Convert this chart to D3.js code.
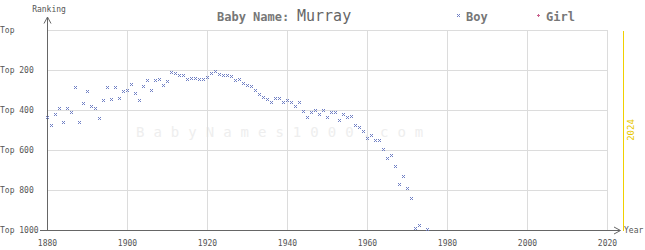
<!DOCTYPE html>
<html>
<head>
<meta charset="utf-8">
<script src="https://cdn.jsdelivr.net/npm/d3@7"></script>
<style>
  body { margin: 0; background: #fff; }
  svg { display: block; font-family: "DejaVu Sans Mono", monospace; }
</style>
</head>
<body>
<div id="vis"></div>
<script>
// ranking of "Murray" (boys) by year
var boyYears = [1880,1881,1882,1883,1884,1885,1886,1887,1888,1889,
                1890,1891,1892,1893,1894,1895,1896,1897,1898,1899,
                1900,1901,1902,1903,1904,1905,1906,1907,1908,1909,
                1910,1911,1912,1913,1914,1915,1916,1917,1918,1919,
                1920,1921,1922,1923,1924,1925,1926,1927,1928,1929,
                1930,1931,1932,1933,1934,1935,1936,1937,1938,1939,
                1940,1941,1942,1943,1944,1945,1946,1947,1948,1949,
                1950,1951,1952,1953,1954,1955,1956,1957,1958,1959,
                1960,1961,1962,1963,1964,1965,1966,1967,1968,1969,
                1970,1971,1972,1973,1975];
var boyRanks = [437,477,422,392,462,392,412,287,462,367,
                307,382,392,442,352,287,347,287,342,307,
                302,272,317,352,282,252,302,252,247,277,
                257,212,217,227,227,247,242,242,247,247,
                237,217,207,222,227,227,232,252,247,267,
                277,282,302,322,337,347,362,342,342,362,
                352,362,382,362,407,437,412,402,422,402,
                437,412,412,452,422,437,432,477,487,507,
                542,527,552,552,595,642,627,682,772,732,
                792,842,992,977,997];
var girlYears = [];
var girlRanks = [];

var xTicks = [1880,1900,1920,1940,1960,1980,2000,2020];
var yTicks = [0,200,400,600,800,1000];
var yLabels = ["Top","Top 200","Top 400","Top 600","Top 800","Top 1000"];
var currentYear = 2024;

var width = 645, height = 250;
var x = d3.scaleLinear().domain([1880, 2020]).range([47.5, 607.5]);
var y = d3.scaleLinear().domain([0, 1000]).range([30.5, 230.5]);

var svg = d3.select("#vis").append("svg")
    .attr("width", width)
    .attr("height", height);

// watermark
svg.append("text")
    .attr("x", 136).attr("y", 137)
    .style("font-size", "14px")
    .style("letter-spacing", "9px")
    .style("fill", "#eeeeee")
    .text("BabyNames1000.com");

// grid
var grid = svg.append("g").attr("shape-rendering", "crispEdges");
grid.selectAll(".hg").data(yTicks.slice(0, -1)).enter().append("line")
    .attr("x1", x(1880)).attr("x2", x(2020))
    .attr("y1", function(d){ return y(d); }).attr("y2", function(d){ return y(d); })
    .style("stroke", "#dcdcdc");
grid.selectAll(".vg").data(xTicks.slice(1)).enter().append("line")
    .attr("x1", function(d){ return x(d); }).attr("x2", function(d){ return x(d); })
    .attr("y1", y(0)).attr("y2", y(1000))
    .style("stroke", "#dcdcdc");

// current year line
svg.append("line")
    .attr("x1", x(currentYear)).attr("x2", x(currentYear))
    .attr("y1", y(0)).attr("y2", y(1000))
    .attr("shape-rendering", "crispEdges")
    .style("stroke", "#f0d000");
svg.append("text")
    .attr("transform", "translate(" + (x(currentYear) + 10.5) + "," + 130 + ") rotate(-90)")
    .attr("text-anchor", "middle")
    .style("font-size", "9px")
    .style("fill", "#e8c800")
    .text(currentYear);

// axes
var axis = svg.append("g").style("stroke", "#666").style("fill", "none");
axis.append("line").attr("shape-rendering", "crispEdges")
    .attr("x1", x(1880)).attr("x2", x(1880)).attr("y1", 17).attr("y2", y(1000));
axis.append("path").attr("d", "M44,23.5L47.5,17L51,23.5");
axis.append("line").attr("shape-rendering", "crispEdges")
    .attr("x1", 40).attr("x2", 620).attr("y1", y(1000)).attr("y2", y(1000));
axis.append("path").attr("d", "M614,227L620.5,230.5L614,234");

// tick labels
svg.selectAll(".yl").data(yTicks).enter().append("text")
    .attr("x", 0).attr("y", function(d){ return y(d); })
    .attr("dy", "0.32em")
    .style("font-size", "8px").style("fill", "#555")
    .text(function(d, i){ return yLabels[i]; });
svg.selectAll(".xl").data(xTicks).enter().append("text")
    .attr("x", function(d){ return x(d); }).attr("y", 246)
    .attr("text-anchor", "middle")
    .style("font-size", "8px").style("fill", "#555")
    .text(function(d){ return d; });
svg.append("text").attr("x", 49).attr("y", 12)
    .attr("text-anchor", "middle")
    .style("font-size", "8px").style("fill", "#555")
    .text("Ranking");
svg.append("text").attr("x", 624).attr("y", 233)
    .style("font-size", "8px").style("fill", "#555")
    .text("Year");

// markers: 3x3 pixel cross
var crossPath = "M-1,-1h1v1h-1zM1,-1h1v1h-1zM0,0h1v1h-1zM-1,1h1v1h-1zM1,1h1v1h-1z";
var plusPath = "M0,-1h1v1h-1zM-1,0h3v1h-3zM0,1h1v1h-1z";
var boyColor = "#6f7fc4", girlColor = "#c8608c";

svg.append("g").selectAll("path").data(boyYears).enter().append("path")
    .attr("d", crossPath)
    .attr("shape-rendering", "crispEdges")
    .attr("transform", function(d, i){
        return "translate(" + Math.floor(x(d)) + "," + Math.floor(y(boyRanks[i])) + ")";
    })
    .style("fill", boyColor);
svg.append("g").selectAll("path").data(girlYears).enter().append("path")
    .attr("d", plusPath)
    .attr("transform", function(d, i){
        return "translate(" + Math.floor(x(d)) + "," + Math.floor(y(girlRanks[i])) + ")";
    })
    .style("fill", girlColor);

// title
var title = svg.append("text").attr("x", 217).attr("y", 21).style("fill", "#777");
title.append("tspan").style("font-size", "12px").style("font-weight", "bold").text("Baby Name: ");
title.append("tspan").attr("x", 297).style("font-size", "15px").style("fill", "#666").text("Murray");

// legend
svg.append("path").attr("d", crossPath).attr("shape-rendering", "crispEdges")
    .attr("transform", "translate(458,15)").style("fill", boyColor);
svg.append("text").attr("x", 466).attr("y", 21)
    .style("font-size", "12px").style("font-weight", "bold").style("fill", "#777")
    .text("Boy");
svg.append("path").attr("d", plusPath).attr("shape-rendering", "crispEdges")
    .attr("transform", "translate(538,15)").style("fill", girlColor);
svg.append("text").attr("x", 546).attr("y", 21)
    .style("font-size", "12px").style("font-weight", "bold").style("fill", "#777")
    .text("Girl");
</script>
</body>
</html>
